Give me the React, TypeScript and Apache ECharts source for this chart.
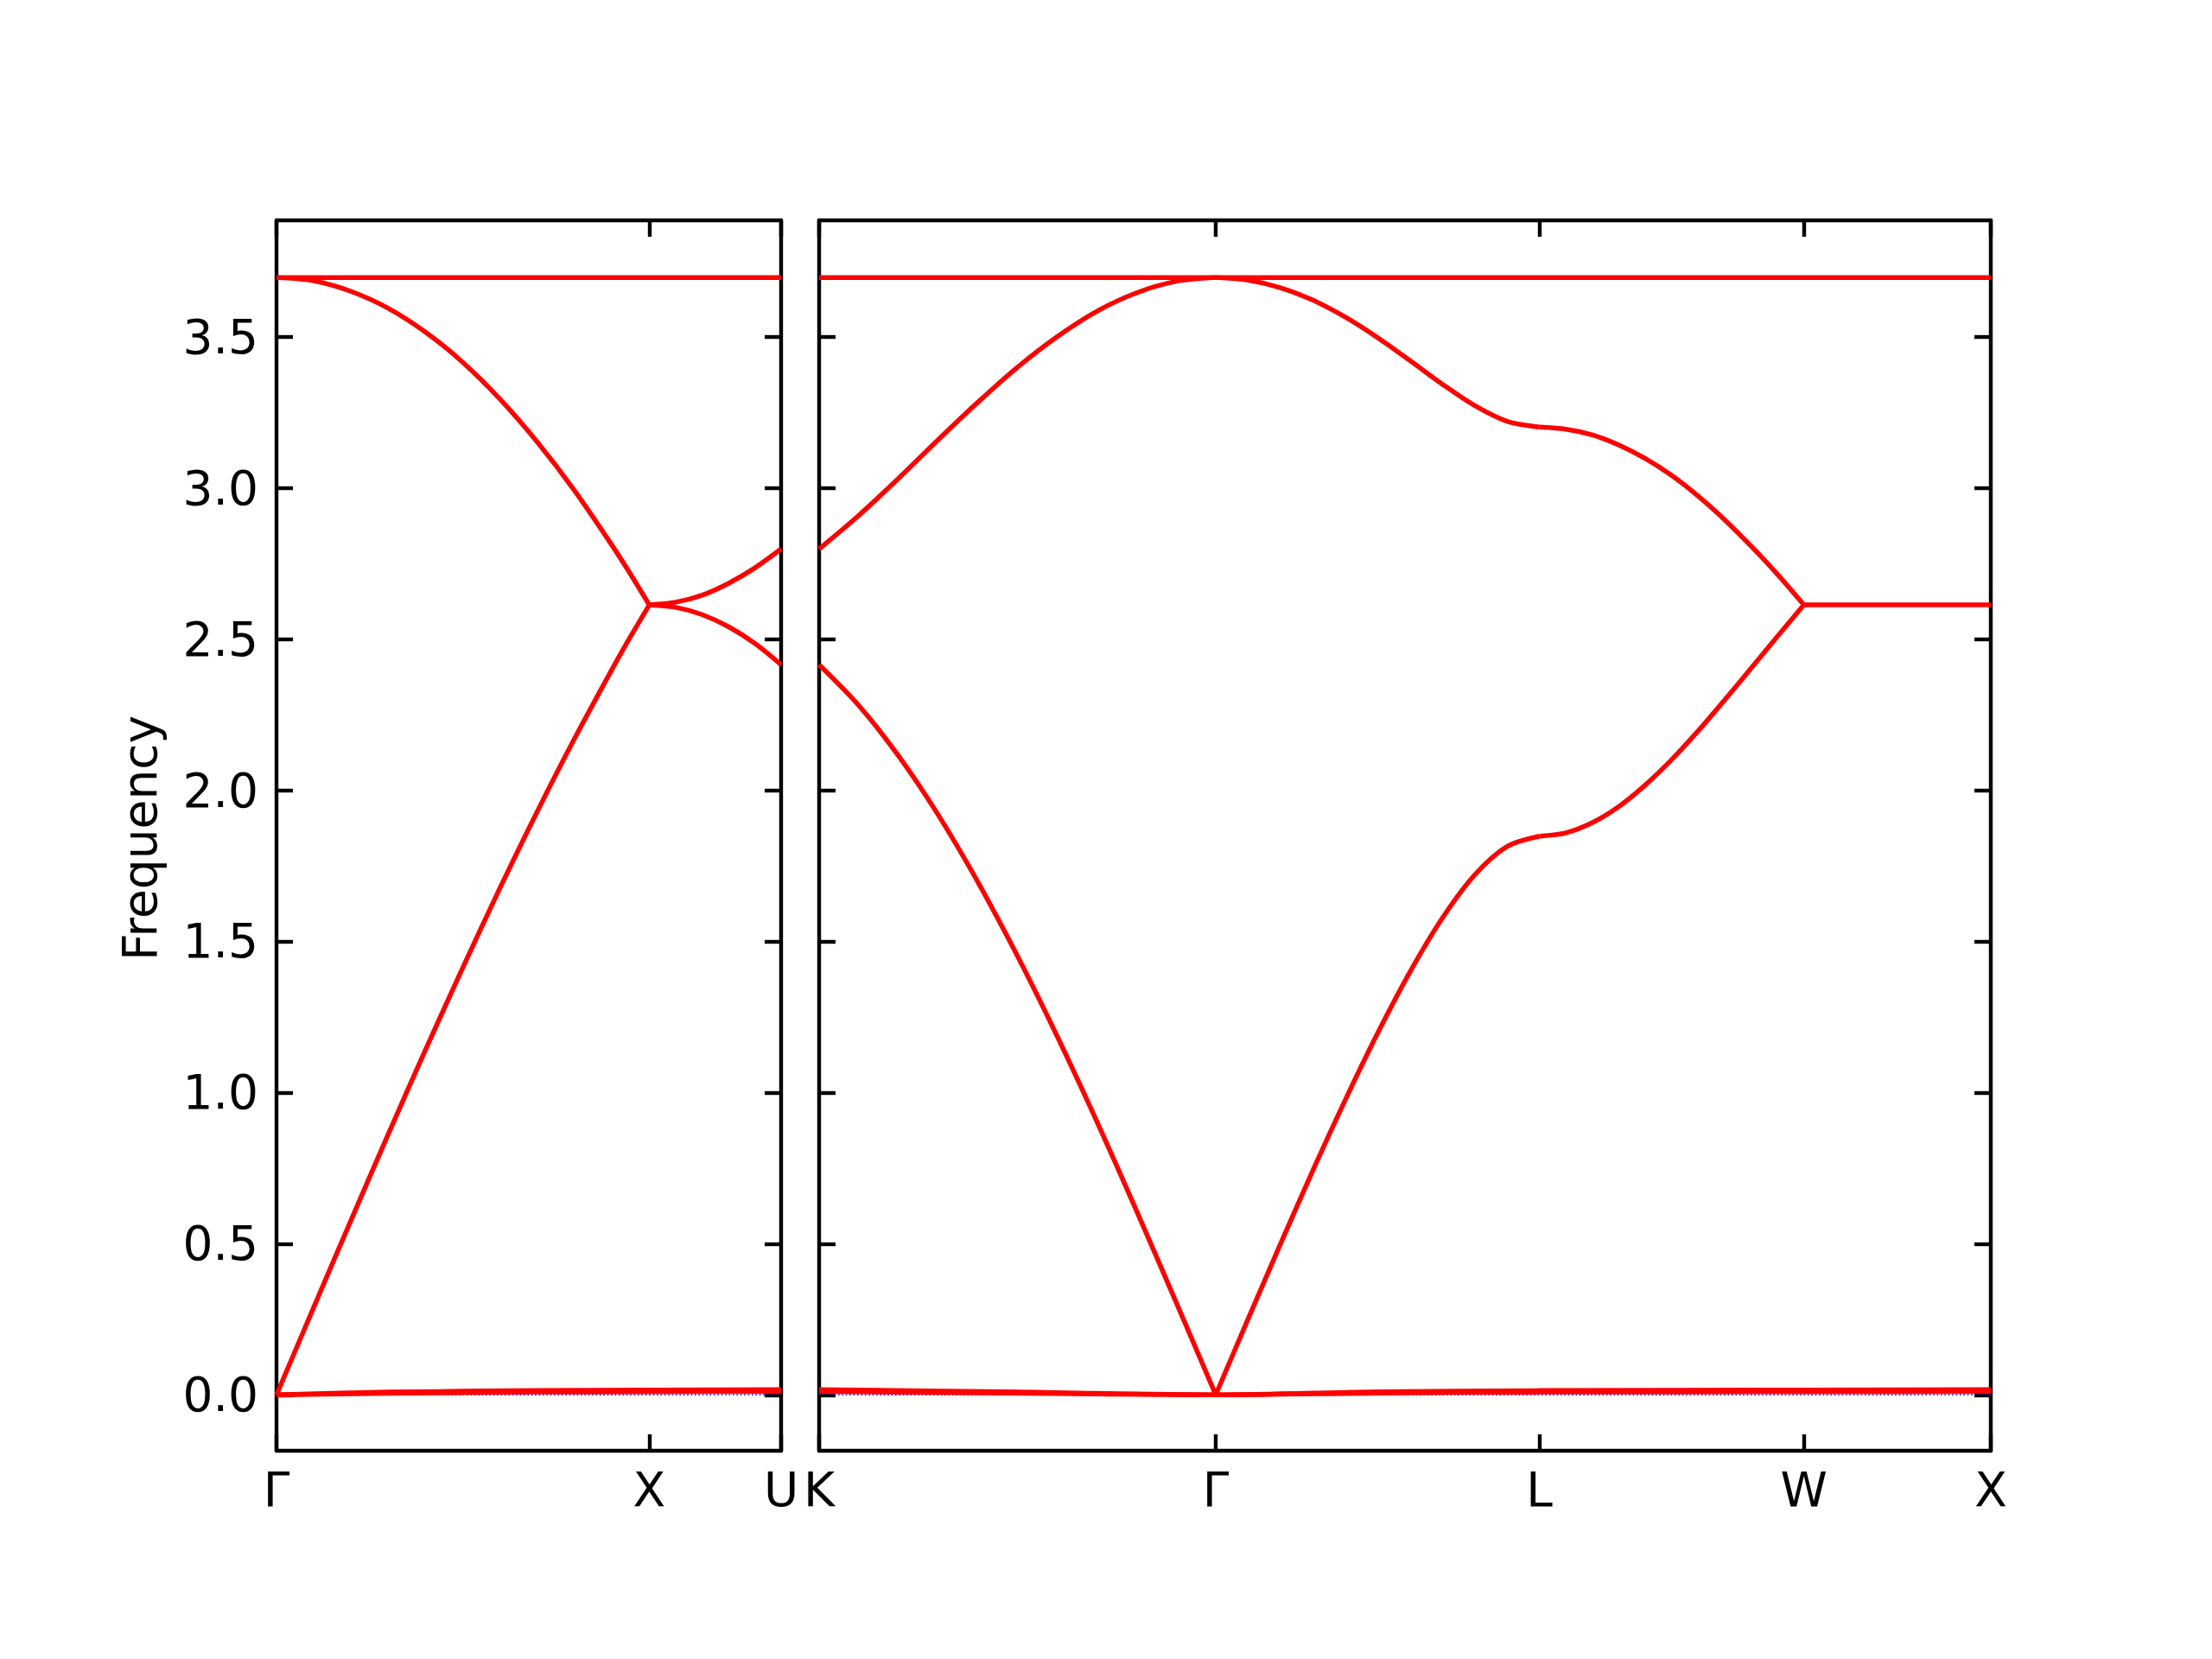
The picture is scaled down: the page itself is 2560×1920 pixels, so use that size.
import React, { useEffect, useRef } from "react";
import * as echarts from "echarts";

// High-symmetry points (path length, 2π/a units)
const leftTickPos = [0, 1.0, 1.3536];
const leftTickNames = ["Γ", "X", "U"];
const rightTickPos = [0, 1.0607, 1.9267, 2.6338, 3.1338];
const rightTickNames = ["K", "Γ", "L", "W", "X"];

const yTicks = [0, 0.5, 1.0, 1.5, 2.0, 2.5, 3.0, 3.5];
const yMin = -0.185;
const yMax = 3.885;

// ---- Left panel bands (Γ–X–U) ----
const flatTopLeft = [[0, 3.696], [1.3536, 3.696]];
const gxDesc = [[0, 3.696], [0.1, 3.685], [0.2, 3.65], [0.3, 3.594], [0.4, 3.515], [0.5, 3.415], [0.6, 3.293], [0.7, 3.151], [0.8, 2.99], [0.9, 2.81], [0.95, 2.714], [1.0, 2.613]];
const gxAsc = [[0, 0], [0.1, 0.29], [0.2, 0.578], [0.3, 0.863], [0.4, 1.142], [0.5, 1.414], [0.6, 1.678], [0.7, 1.931], [0.8, 2.172], [0.9, 2.4], [0.95, 2.509], [1.0, 2.613]];
const xuUpper = [[1.0, 2.613], [1.0707, 2.622], [1.1414, 2.645], [1.2121, 2.684], [1.2828, 2.735], [1.3536, 2.798]];
const xuLower = [[1.0, 2.613], [1.0707, 2.605], [1.1414, 2.581], [1.2121, 2.541], [1.2828, 2.486], [1.3536, 2.415]];
const nzLeftA = [[0, 0], [0.3, 0.005], [0.7, 0.009], [1.0, 0.01], [1.3536, 0.011]];
const nzLeftB = [[0, 0], [0.3, 0.009], [0.7, 0.014], [1.0, 0.016], [1.3536, 0.017]];
const zeroLeft = [[0, 0], [1.3536, 0]];

// ---- Right panel bands (K–Γ–L–W–X) ----
const flatTopRight = [[0, 3.696], [3.1338, 3.696]];
const kgUpper = [[0, 2.798], [0.1061, 2.909], [0.2121, 3.031], [0.3182, 3.159], [0.4243, 3.283], [0.5303, 3.399], [0.6364, 3.5], [0.7425, 3.584], [0.8485, 3.645], [0.9546, 3.683], [1.0607, 3.696]];
const kgLower = [[0, 2.415], [0.1061, 2.28], [0.2121, 2.114], [0.3182, 1.919], [0.4243, 1.697], [0.5303, 1.452], [0.6364, 1.187], [0.7425, 0.905], [0.8485, 0.61], [0.9546, 0.307], [1.0607, 0]];
const glUpper = [[1.0607, 3.696], [1.1473, 3.687], [1.2339, 3.662], [1.3205, 3.621], [1.4071, 3.565], [1.4937, 3.497], [1.5803, 3.421], [1.6669, 3.343], [1.7535, 3.272], [1.8401, 3.22], [1.9267, 3.201]];
const glLower = [[1.0607, 0], [1.1473, 0.251], [1.2339, 0.499], [1.3205, 0.742], [1.4071, 0.975], [1.4937, 1.196], [1.5803, 1.399], [1.6669, 1.577], [1.7535, 1.72], [1.8401, 1.814], [1.9267, 1.848]];
const lwUpper = [[1.9267, 3.201], [1.9974, 3.194], [2.0681, 3.175], [2.1388, 3.142], [2.2095, 3.097], [2.2803, 3.041], [2.351, 2.973], [2.4217, 2.895], [2.4924, 2.808], [2.5631, 2.714], [2.6338, 2.613]];
const lwLower = [[1.9267, 1.848], [1.9974, 1.859], [2.0681, 1.893], [2.1388, 1.946], [2.2095, 2.017], [2.2803, 2.101], [2.351, 2.196], [2.4217, 2.298], [2.4924, 2.403], [2.5631, 2.509], [2.6338, 2.613]];
const wxFlat = [[2.6338, 2.613], [3.1338, 2.613]];
const nzRightA = [[0, 0.011], [0.5, 0.006], [1.0607, 0], [1.5, 0.006], [1.9267, 0.009], [2.6338, 0.01], [3.1338, 0.011]];
const nzRightB = [[0, 0.017], [0.5, 0.01], [1.0607, 0], [1.5, 0.01], [1.9267, 0.014], [2.6338, 0.016], [3.1338, 0.017]];
const zeroRight = [[0, 0], [3.1338, 0]];

const leftBands = [flatTopLeft, gxDesc, gxAsc, xuUpper, xuLower, nzLeftA, nzLeftB];
const rightBands = [flatTopRight, kgUpper, kgLower, glUpper, glLower, lwUpper, lwLower, wxFlat, nzRightA, nzRightB];

const FONT = "DejaVu Sans";
const FS = 55;
const SPINE = 4.4;
const TICK_LEN = 19;
const RED = "#ff0000";

function nameFor(v: number, pos: number[], names: string[]) {
  let best = 0;
  for (let i = 1; i < pos.length; i++) {
    if (Math.abs(pos[i] - v) < Math.abs(pos[best] - v)) best = i;
  }
  return names[best];
}

function xAxisDef(gridIndex: number, pos: number[], names: string[], top: boolean) {
  return {
    type: "value",
    gridIndex,
    position: top ? "top" : "bottom",
    min: pos[0],
    max: pos[pos.length - 1],
    axisLine: { show: true, onZero: false, lineStyle: { color: "#000", width: SPINE } },
    axisTick: { show: true, inside: true, length: TICK_LEN, customValues: pos, lineStyle: { color: "#000", width: SPINE } },
    axisLabel: {
      show: !top,
      customValues: pos,
      margin: 17,
      color: "#000",
      fontFamily: FONT,
      fontSize: FS,
      formatter: (v: number) => nameFor(v, pos, names),
    },
    splitLine: { show: false },
  };
}

function yAxisDef(gridIndex: number, right: boolean, labels: boolean) {
  return {
    type: "value",
    gridIndex,
    position: right ? "right" : "left",
    min: yMin,
    max: yMax,
    axisLine: { show: true, onZero: false, lineStyle: { color: "#000", width: SPINE } },
    axisTick: { show: true, inside: true, length: TICK_LEN, customValues: yTicks, lineStyle: { color: "#000", width: SPINE } },
    axisLabel: {
      show: labels,
      customValues: yTicks,
      margin: 21,
      color: "#000",
      fontFamily: FONT,
      fontSize: FS,
      formatter: (v: number) => v.toFixed(1),
    },
    splitLine: { show: false },
  };
}

function bandSeries(data: number[][], axisIdx: number) {
  return {
    type: "line",
    xAxisIndex: axisIdx,
    yAxisIndex: axisIdx,
    data,
    symbol: "none",
    showSymbol: false,
    smooth: 0.3,
    silent: true,
    z: 3,
    lineStyle: { color: RED, width: 5.5 },
  };
}

function zeroSeries(data: number[][], axisIdx: number) {
  return {
    type: "line",
    xAxisIndex: axisIdx,
    yAxisIndex: axisIdx,
    data,
    symbol: "none",
    showSymbol: false,
    silent: true,
    z: 2,
    lineStyle: { color: "#0000ff", width: 1.6, type: [1.6, 2.8] },
  };
}

export default function App() {
  const ref = useRef<HTMLDivElement>(null);
  useEffect(() => {
    if (!ref.current) return;
    const chart = echarts.init(ref.current, null, { renderer: "svg" });
    const series: any[] = [];
    series.push(zeroSeries(zeroLeft, 0));
    series.push(zeroSeries(zeroRight, 2));
    leftBands.forEach((b) => series.push(bandSeries(b, 0)));
    rightBands.forEach((b) => series.push(bandSeries(b, 2)));
    chart.setOption({
      animation: false,
      backgroundColor: "#ffffff",
      grid: [
        { left: 320, top: 255, width: 584, height: 1424, outerBoundsMode: "none", containLabel: false },
        { left: 948, top: 255, width: 1356, height: 1424, outerBoundsMode: "none", containLabel: false },
      ],
      xAxis: [
        xAxisDef(0, leftTickPos, leftTickNames, false),
        xAxisDef(0, leftTickPos, leftTickNames, true),
        xAxisDef(1, rightTickPos, rightTickNames, false),
        xAxisDef(1, rightTickPos, rightTickNames, true),
      ],
      yAxis: [yAxisDef(0, false, true), yAxisDef(0, true, false), yAxisDef(1, false, false), yAxisDef(1, true, false)],
      graphic: [
        {
          type: "text",
          x: 162,
          y: 970,
          rotation: Math.PI / 2,
          style: { text: "Frequency", font: `${FS}px "${FONT}"`, fill: "#000", align: "center", verticalAlign: "middle" },
        },
      ],
      series,
    });
    return () => chart.dispose();
  }, []);
  return <div ref={ref} style={{ position: "absolute", left: 0, top: 0, width: 2560, height: 1920, background: "#fff" }} />;
}
